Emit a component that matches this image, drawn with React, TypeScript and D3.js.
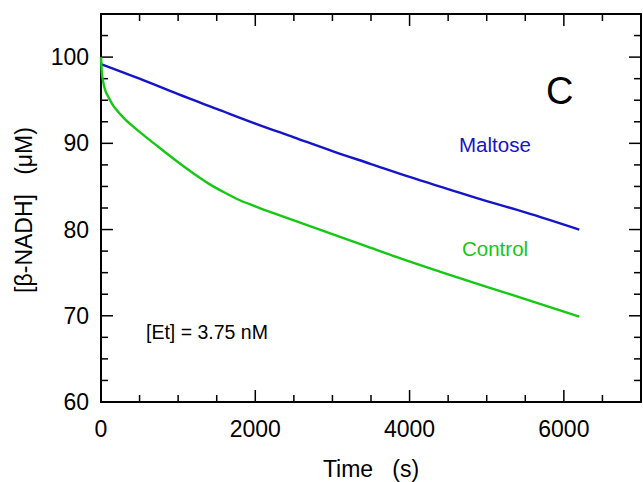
import React from "react";
import * as d3 from "d3";

const maltoseTime = [0, 500, 1000, 1500, 2000, 2500, 3000, 3500, 4000, 4500, 5000, 5500, 6200];
const maltoseValue = [99.2, 97.5, 95.7, 94.0, 92.3, 90.7, 89.1, 87.6, 86.1, 84.7, 83.3, 82.0, 80.0];

const controlTime = [0, 10, 25, 50, 100, 150, 200, 300, 450, 600, 800, 1000, 1200, 1400, 1600, 1800, 2000, 2300, 2800, 3400, 3900, 4400, 5300, 6200];
const controlValue = [100, 98.3, 97.3, 96.3, 95.3, 94.5, 93.9, 92.9, 91.7, 90.6, 89.2, 87.8, 86.5, 85.3, 84.3, 83.4, 82.7, 81.7, 80.1, 78.2, 76.6, 75.1, 72.5, 69.9];

const xTicks = [0, 2000, 4000, 6000];
const yTicks = [60, 70, 80, 90, 100];

const W = 643;
const H = 482;
const left = 101;
const right = 641;
const top = 14;
const bottom = 402;

export default function App() {
  const x = d3.scaleLinear().domain([0, 7000]).range([left, right]);
  const y = d3.scaleLinear().domain([60, 105]).range([bottom, top]);
  const line = d3
    .line<[number, number]>()
    .x((d) => x(d[0]))
    .y((d) => y(d[1]))
    .curve(d3.curveMonotoneX);
  const mData = maltoseTime.map((t, i) => [t, maltoseValue[i]] as [number, number]);
  const cData = controlTime.map((t, i) => [t, controlValue[i]] as [number, number]);
  const xMinor = d3.range(0, 7001, 500);
  const yMinor = d3.range(60, 105.01, 2.5);
  const font = "Liberation Sans, Arial, sans-serif";
  return (
    <svg
      width={W}
      height={H}
      style={{ position: "absolute", left: 0, top: 0, background: "#fff" }}
      fontFamily={font}
    >
      {xMinor.map((v) => {
        const major = v % 2000 === 0;
        const len = major ? 12 : 7;
        return (
          <g key={"xt" + v} stroke="#000" strokeWidth={1.5}>
            <line x1={x(v)} x2={x(v)} y1={bottom} y2={bottom - len} />
            <line x1={x(v)} x2={x(v)} y1={top} y2={top + len} />
          </g>
        );
      })}
      {yMinor.map((v) => {
        const major = Math.abs(v % 10) < 1e-6;
        const len = major ? 12 : 7;
        return (
          <g key={"yt" + v} stroke="#000" strokeWidth={1.5}>
            <line x1={left} x2={left + len} y1={y(v)} y2={y(v)} />
            <line x1={right} x2={right - len} y1={y(v)} y2={y(v)} />
          </g>
        );
      })}
      <rect
        x={left}
        y={top}
        width={right - left}
        height={bottom - top}
        fill="none"
        stroke="#000"
        strokeWidth={2}
      />
      {xTicks.map((v) => (
        <text key={"xl" + v} x={x(v)} y={437} fontSize={23} textAnchor="middle">
          {v}
        </text>
      ))}
      {yTicks.map((v) => (
        <text key={"yl" + v} x={89} y={y(v) + 8} fontSize={23} textAnchor="end">
          {v}
        </text>
      ))}
      <path d={line(mData) || ""} fill="none" stroke="#1414c8" strokeWidth={2.4} />
      <path d={line(cData) || ""} fill="none" stroke="#14c814" strokeWidth={2.4} />
      <text x={459} y={152} fontSize={20.5} fill="#1414c8">
        Maltose
      </text>
      <text x={462} y={256} fontSize={20.5} fill="#14c814">
        Control
      </text>
      <text x={546} y={104} fontSize={38}>
        C
      </text>
      <text x={146} y={339} fontSize={19.5}>
        [Et] = 3.75 nM
      </text>
      <text x={371} y={477} fontSize={23} textAnchor="middle" style={{ whiteSpace: "pre" }}>
        {"Time   (s)"}
      </text>
      <text
        transform={`translate(32, 210) rotate(-90)`}
        fontSize={23}
        textAnchor="middle"
        style={{ whiteSpace: "pre" }}
      >
        {"[β-NADH]   (μM)"}
      </text>
    </svg>
  );
}
